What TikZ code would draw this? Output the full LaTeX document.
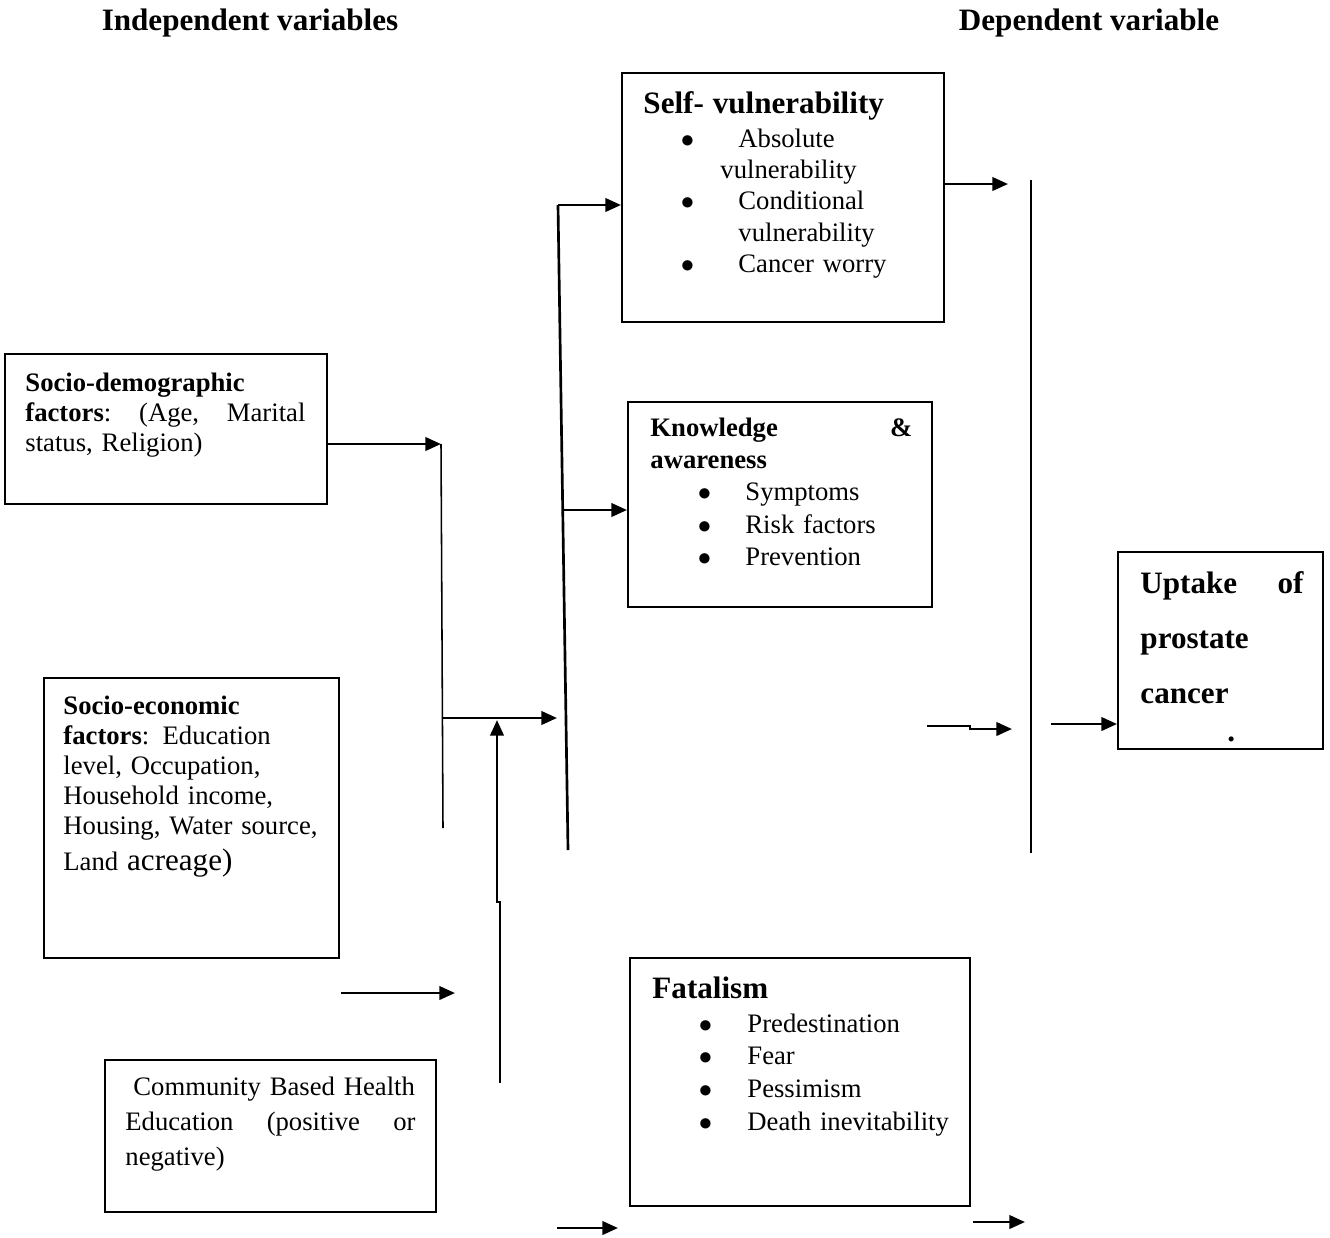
\documentclass[tikz,border=0pt]{standalone}
\usepackage{fontspec}
\setmainfont{Liberation Serif}
\usetikzlibrary{arrows.meta,fit}

\newdimen\pxu \pxu=0.45pt
\newcommand\bodyfont[1]{\fontsize{12}{#1}\selectfont}
\newcommand\headfont{\fontsize{14}{16}\selectfont\bfseries}
% bullet line: bullet centred at #1, text starting at #2 (pixels from left)
\newcommand\bline[3]{\makebox[#2\pxu][l]{\hspace*{#1\pxu}\makebox[0pt]{$\bullet$}}#3}

\begin{document}
\begin{tikzpicture}[x=0.45pt, y=-0.45pt,
    box/.style={draw, line width=0.9pt, inner sep=0pt},
    txt/.style={anchor=base west, inner sep=0pt, text width=#1\pxu},
    conn/.style={line width=1.2pt},
    arr/.style={conn, -{Triangle[length=7pt,width=6pt]}},
    thinline/.style={line width=0.7pt}]
    \useasboundingbox (0,0) rectangle (1330,1237);

    % Headings
    \node[anchor=base, font=\headfont] (indep) at (250,30) {Independent variables};
    \node[anchor=base, font=\headfont] (dep) at (1089,30) {Dependent variable};

    % Boxes
    \node[box, fit={(5,354) (327,504)}] (sd) {};
    \node[box, fit={(44,678) (339,958)}] (se) {};
    \node[box, fit={(105,1060) (436,1212)}] (cb) {};
    \node[box, fit={(622,73) (944,322)}] (sv) {};
    \node[box, fit={(628,402) (932,607)}] (kn) {};
    \node[box, fit={(630,958) (970,1206)}] (fa) {};
    \node[box, fit={(1118,552) (1323,749)}] (up) {};

    % Independent variables (left)
    \node[txt=280, font={\bodyfont{13.5}}] (sdtext) at (25,391)
        {\textbf{Socio-demographic}\\ \textbf{factors}:\hfill(Age,\hfill Marital\\ status, Religion)};
    \node[txt=270, align=left, font={\bodyfont{13.5}}] (setext) at (63,714)
        {\textbf{Socio-economic}\\ \textbf{factors}: Education\\ level, Occupation,\\ Household income,\\
         Housing, Water source,\\[3pt] Land {\fontsize{14}{16}\selectfont acreage)}};
    \node[txt=290, font={\bodyfont{15.75}}] (cbtext) at (125,1095)
        {\hspace*{8\pxu}Community Based Health\\ Education\hfill(positive\hfill or\\ negative)};

    % Mediating factors (middle)
    \node[txt=300, align=left, font={\bodyfont{14.1}}] (svtext) at (643,113)
        {{\headfont Self- vulnerability}\\[1.2pt]
         \bline{44}{95}{Absolute}\\ \hspace*{77\pxu}vulnerability\\
         \bline{44}{95}{Conditional}\\ \hspace*{95\pxu}vulnerability\\
         \bline{44}{95}{Cancer worry}};
    \node[txt=262, font={\bodyfont{14.6}}] (kntext) at (650,436)
        {\textbf{Knowledge\hfill\&}\\ \textbf{awareness}\\
         \bline{54}{95}{Symptoms}\\ \bline{54}{95}{Risk factors}\\ \bline{54}{95}{Prevention}};
    \node[txt=310, align=left, font={\bodyfont{14.7}}] (fatext) at (652,998)
        {{\headfont Fatalism}\\[0.6pt]
         \bline{53}{95}{Predestination}\\ \bline{53}{95}{Fear}\\
         \bline{53}{95}{Pessimism}\\ \bline{53}{95}{Death inevitability}};

    % Dependent variable (right)
    \node[txt=163, font={\fontsize{14}{24.75}\selectfont\bfseries}] (uptext) at (1140,593)
        {Uptake\hfill of\\ prostate\\ cancer\\[-7.5pt] \hspace*{87\pxu}.};

    % Connectors on the left
    \coordinate (sdin) at (441,444);
    \coordinate (sdend) at (443,828);
    \draw[arr] (sd.east |- sdin) -- (sdin);
    \draw[thinline] (sdin) -- (sdend);
    \coordinate (mid) at (443,718);
    \coordinate (midin) at (557,718);
    \draw[arr] (mid) -- (midin);
    \coordinate (cbup) at (500,1083);
    \coordinate (cbtop) at (497,720);
    \draw[arr] (cbup) -- ++(0,-181) -| (cbtop);
    \coordinate (seout) at (341,993);
    \coordinate (sein) at (455,993);
    \draw[arr] (seout) -- (sein);

    % Split line to the middle boxes
    \coordinate (splittop) at (558,205);
    \coordinate (splitbot) at (568,850);
    \draw[conn] (splittop) -- (splitbot);
    \draw[arr] (splittop) -- (splittop -| sv.west);
    \coordinate (knin) at (563,510);
    \draw[arr] (knin) -- (knin -| kn.west);
    \coordinate (fain) at (557,1228);
    \draw[arr] (fain) -- ++(61,0);

    % Connectors on the right
    \coordinate (svout) at (1008,184);
    \draw[arr] (sv.east |- svout) -- (svout);
    \coordinate (bartop) at (1031,180);
    \coordinate (barbot) at (1031,853);
    \draw[conn] (bartop) -- (barbot);
    \coordinate (jogin) at (927,726);
    \coordinate (jogout) at (1012,729);
    \draw[arr] (jogin) -- ++(43,0) |- (jogout);
    \coordinate (upin) at (1051,724);
    \draw[arr] (upin) -- (upin -| up.west);
    \coordinate (faout) at (973,1222);
    \draw[arr] (faout) -- ++(52,0);
\end{tikzpicture}
\end{document}
